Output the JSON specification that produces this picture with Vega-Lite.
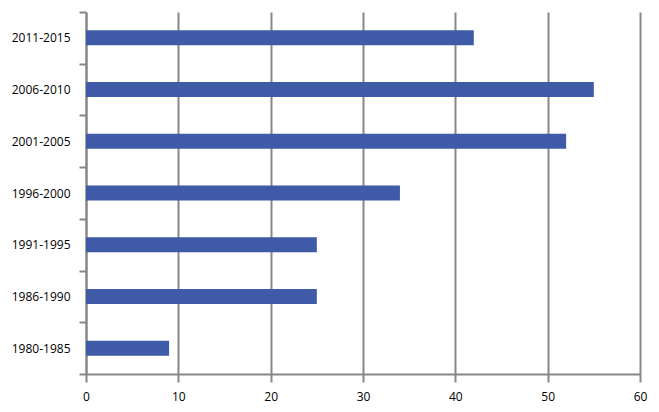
{
  "$schema": "https://vega.github.io/schema/vega-lite/v6.json",
  "width": 554,
  "height": 362,
  "autosize": {"type": "none"},
  "padding": {"left": 86, "top": 12, "right": 19, "bottom": 38},
  "background": "white",
  "config": {"view": {"stroke": null}},
  "data": {"values": [
    {"period": "2011-2015", "value": 42},
    {"period": "2006-2010", "value": 55},
    {"period": "2001-2005", "value": 52},
    {"period": "1996-2000", "value": 34},
    {"period": "1991-1995", "value": 25},
    {"period": "1986-1990", "value": 25},
    {"period": "1980-1985", "value": 9}
  ]},
  "mark": {"type": "bar", "color": "#3F5AA6", "height": {"band": 0.29}},
  "encoding": {
    "y": {
      "field": "period", "type": "nominal", "sort": null, "title": null,
      "scale": {"paddingInner": 0, "paddingOuter": 0},
      "axis": {
        "labelFont": "Open Sans", "labelFontSize": 12, "labelColor": "#000000",
        "labelPadding": 9,
        "domainColor": "#878787", "domainWidth": 2,
        "tickColor": "#878787", "tickWidth": 2, "tickSize": 7, "tickBand": "extent",
        "grid": false
      }
    },
    "x": {
      "field": "value", "type": "quantitative", "title": null,
      "scale": {"domain": [0, 60], "nice": false},
      "axis": {
        "values": [0, 10, 20, 30, 40, 50, 60],
        "labelFont": "Open Sans", "labelFontSize": 12, "labelColor": "#000000",
        "labelPadding": 9,
        "domainColor": "#878787", "domainWidth": 2,
        "tickColor": "#878787", "tickWidth": 2, "tickSize": 8,
        "grid": true, "gridColor": "#878787", "gridWidth": 2,
        "labelFlush": false
      }
    }
  }
}
